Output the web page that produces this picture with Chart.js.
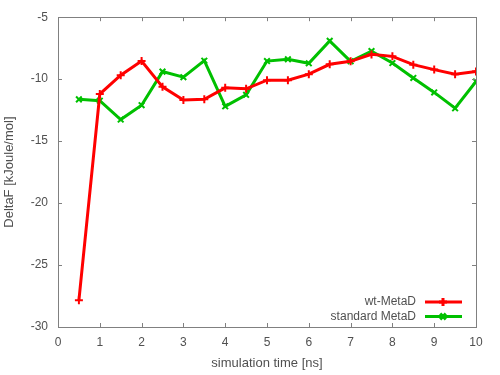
<!DOCTYPE html>
<html>
<head>
<meta charset="utf-8">
<script src="https://cdn.jsdelivr.net/npm/chart.js@4"></script>
<style>
  html, body { margin: 0; padding: 0; background: #fff; }
  #wrap { width: 500px; height: 375px; }
</style>
</head>
<body>
<div id="wrap"><canvas id="Graph1" width="500" height="375"></canvas></div>
<script>
    // data
    const times = [0.5, 1, 1.5, 2, 2.5, 3, 3.5, 4, 4.5, 5, 5.5, 6, 6.5, 7, 7.5, 8, 8.5, 9, 9.5, 10];
    const wtMetaD = [-27.85, -11.2, -9.68, -8.54, -10.62, -11.68, -11.63, -10.7, -10.78, -10.08,
                     -10.08, -9.6, -8.8, -8.56, -8.0, -8.16, -8.83, -9.23, -9.6, -9.39];
    const standardMetaD = [-11.63, -11.74, -13.26, -12.1, -9.39, -9.84, -8.51, -12.19, -11.26, -8.54,
                           -8.4, -8.72, -6.91, -8.56, -7.74, -8.7, -9.9, -11.07, -12.35, -10.19];
    const xTicks = [0, 1, 2, 3, 4, 5, 6, 7, 8, 9, 10];
    const yTicks = [-30, -25, -20, -15, -10, -5];

    const font = "Liberation Sans, Arial, sans-serif";
    const textColor = "#505050";

    // gnuplot style frame, inward ticks and legend in the lower right corner
    const framePlugin = {
        id: 'frame',
        afterDatasetsDraw(chart) {
            const c = chart.ctx, a = chart.chartArea;
            const xs = chart.scales.x, ys = chart.scales.y;
            c.save();
            c.strokeStyle = "#808080";
            c.lineWidth = 1;
            c.strokeRect(Math.round(a.left) + 0.5, Math.round(a.top) + 0.5,
                         Math.round(a.right - a.left), Math.round(a.bottom - a.top));
            c.beginPath();
            xTicks.forEach(v => {
                const px = Math.round(xs.getPixelForValue(v)) + 0.5;
                c.moveTo(px, a.bottom); c.lineTo(px, a.bottom - 4);
                c.moveTo(px, a.top); c.lineTo(px, a.top + 4);
            });
            yTicks.forEach(v => {
                const py = Math.round(ys.getPixelForValue(v)) + 0.5;
                c.moveTo(a.left, py); c.lineTo(a.left + 4, py);
                c.moveTo(a.right, py); c.lineTo(a.right - 4, py);
            });
            c.stroke();

            // legend
            c.font = "12px " + font;
            c.textAlign = "right";
            c.textBaseline = "middle";
            chart.data.datasets.forEach((ds, i) => {
                const y = a.bottom - 25 + i * 14.5;
                c.fillStyle = textColor;
                c.fillText(ds.label, 416, y);
                c.strokeStyle = ds.borderColor;
                c.lineWidth = 3;
                c.beginPath();
                c.moveTo(425, y); c.lineTo(462, y);
                c.stroke();
                Chart.helpers.drawPoint(c, {
                    pointStyle: ds.pointStyle, radius: ds.pointRadius, borderWidth: 2
                }, 443, y);
            });
            c.restore();
        }
    };

    let ctx = document.getElementById("Graph1");
    let graph = new Chart(ctx, {
        type: 'line',
        data: {
            datasets: [{
                label: "wt-MetaD",
                data: times.map((t, i) => ({x: t, y: wtMetaD[i]})),
                borderColor: "rgb(255, 0, 0)",
                backgroundColor: "rgb(255, 0, 0)",
                borderWidth: 3,
                lineTension: 0,
                pointStyle: 'cross',
                pointRadius: 4,
                pointBorderWidth: 2,
            },
            {
                label: "standard MetaD",
                data: times.map((t, i) => ({x: t, y: standardMetaD[i]})),
                borderColor: "rgb(0, 192, 0)",
                backgroundColor: "rgb(0, 192, 0)",
                borderWidth: 3,
                lineTension: 0,
                pointStyle: 'crossRot',
                pointRadius: 4,
                pointBorderWidth: 2,
            }]
        },
        options: {
            responsive: false,
            animation: false,
            layout: { padding: { top: 15, right: 24, left: 0, bottom: 0 } },
            plugins: { legend: { display: false }, tooltip: { enabled: false } },
            scales: {
                x: {
                    type: 'linear', min: 0, max: 10,
                    afterBuildTicks: s => { s.ticks = xTicks.map(v => ({value: v})); },
                    afterFit: s => { s.height = 48; },
                    grid: { display: false, drawTicks: false },
                    border: { display: false },
                    ticks: { color: textColor, font: { family: font, size: 12 }, padding: 8, maxRotation: 0 },
                    title: { display: true, text: "simulation time [ns]", color: textColor,
                             font: { family: font, size: 13 }, padding: { top: 2, bottom: 4 } }
                },
                y: {
                    min: -30, max: -5,
                    afterBuildTicks: s => { s.ticks = yTicks.map(v => ({value: v})); },
                    afterFit: s => { s.width = 58; },
                    grid: { display: false, drawTicks: false },
                    border: { display: false },
                    ticks: { color: textColor, font: { family: font, size: 12 }, padding: 10 },
                    title: { display: true, text: "DeltaF [kJoule/mol]", color: textColor,
                             font: { family: font, size: 13 }, padding: { top: 2, bottom: 0 } }
                }
            }
        },
        plugins: [framePlugin]
    });
</script>
</body>
</html>
